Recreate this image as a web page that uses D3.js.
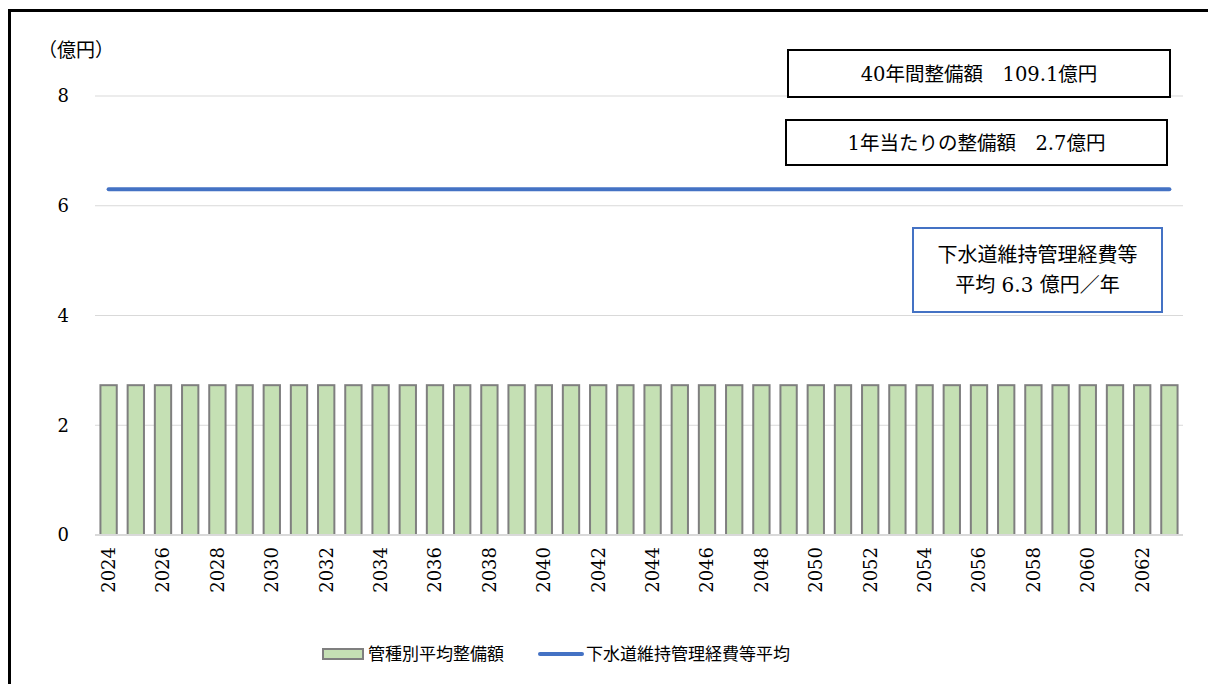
<!DOCTYPE html>
<html>
<head>
<meta charset="utf-8">
<script src="https://cdn.jsdelivr.net/npm/d3@7"></script>
<style>
body { margin: 0; background: #fff; }
svg { display: block; }
.num { font-family: "DejaVu Serif", "Liberation Serif", serif; }
.jp { font-family: "Noto Sans CJK JP", sans-serif; }
.mix { font-family: "DejaVu Serif", "Noto Sans CJK JP", serif; }
</style>
</head>
<body>
<div id="chart-area"></div>
<script>
// data
var years = d3.range(2024, 2064);
var seriesNames = ["管種別平均整備額", "下水道維持管理経費等平均"];
var barValues = [2.73, 2.73, 2.73, 2.73, 2.73, 2.73, 2.73, 2.73, 2.73, 2.73,
	2.73, 2.73, 2.73, 2.73, 2.73, 2.73, 2.73, 2.73, 2.73, 2.73,
	2.73, 2.73, 2.73, 2.73, 2.73, 2.73, 2.73, 2.73, 2.73, 2.73,
	2.73, 2.73, 2.73, 2.73, 2.73, 2.73, 2.73, 2.73, 2.73, 2.73];
var lineValues = [6.3, 6.3, 6.3, 6.3, 6.3, 6.3, 6.3, 6.3, 6.3, 6.3,
	6.3, 6.3, 6.3, 6.3, 6.3, 6.3, 6.3, 6.3, 6.3, 6.3,
	6.3, 6.3, 6.3, 6.3, 6.3, 6.3, 6.3, 6.3, 6.3, 6.3,
	6.3, 6.3, 6.3, 6.3, 6.3, 6.3, 6.3, 6.3, 6.3, 6.3];
var yTicks = [0, 2, 4, 6, 8];
var noteLines = ["40年間整備額　109.1億円", "1年当たりの整備額　2.7億円"];
var blueNote = ["下水道維持管理経費等", "平均 6.3 億円／年"];

var W = 1208, H = 684;
var margin = {top: 96, right: 25, bottom: 149, left: 95};
var width = W - margin.left - margin.right;
var height = H - margin.top - margin.bottom;

var svg = d3.select("#chart-area").append("svg")
	.attr("width", W)
	.attr("height", H);

// outer frame (runs off right and bottom)
svg.append("rect")
	.attr("x", 9.5).attr("y", 10.5)
	.attr("width", W + 20).attr("height", H + 20)
	.attr("fill", "none")
	.attr("stroke", "#000")
	.attr("stroke-width", 3);

var g = svg.append("g")
	.attr("transform", "translate(" + margin.left + ", " + margin.top + ")");

var x = d3.scaleBand()
	.domain(years)
	.range([0, width])
	.paddingInner(0.4)
	.paddingOuter(0.2);

var y = d3.scaleLinear()
	.domain([0, 8])
	.range([height, 0]);

// gridlines
g.selectAll(".grid").data(yTicks.filter(d => d > 0)).enter().append("line")
	.attr("class", "grid")
	.attr("x1", 0).attr("x2", width)
	.attr("y1", d => y(d)).attr("y2", d => y(d))
	.attr("stroke", "#d9d9d9")
	.attr("stroke-width", 1);

// y labels
g.selectAll(".ylab").data(yTicks).enter().append("text")
	.attr("class", "ylab num")
	.attr("x", -26)
	.attr("y", d => y(d))
	.attr("dy", "0.36em")
	.attr("text-anchor", "end")
	.style("font-size", "18px")
	.attr("fill", "#000")
	.text(d => d);

g.append("text")
	.attr("class", "jp")
	.attr("x", -57)
	.attr("y", -46)
	.attr("dy", "0.35em")
	.style("font-size", "19px")
	.attr("fill", "#000")
	.text("（億円）");

// bars
g.selectAll(".bar").data(barValues).enter().append("rect")
	.attr("class", "bar")
	.attr("x", (d, i) => x(years[i]))
	.attr("y", d => y(d))
	.attr("width", x.bandwidth())
	.attr("height", d => height - y(d))
	.attr("fill", "#c5e0b4")
	.attr("stroke", "#7f7f7f")
	.attr("stroke-width", 2);

// baseline
g.append("line")
	.attr("x1", 0).attr("x2", width)
	.attr("y1", height).attr("y2", height)
	.attr("stroke", "#d9d9d9")
	.attr("stroke-width", 2);

// x axis labels, every other year
var bottomAxis = d3.axisBottom(x)
	.tickValues(years.filter(d => d % 2 === 0))
	.tickSize(0);
var xa = g.append("g")
	.attr("transform", "translate(0, " + height + ")")
	.call(bottomAxis);
xa.attr("font-family", null).attr("font-size", null);
xa.select(".domain").remove();
xa.selectAll("text")
	.attr("class", "num")
	.attr("transform", "rotate(-90)")
	.attr("x", -12)
	.attr("y", 0)
	.attr("dy", "0.36em")
	.attr("text-anchor", "end")
	.style("font-size", "18px")
	.attr("fill", "#000");

// line series
var line = d3.line()
	.x((d, i) => x(years[i]) + x.bandwidth() / 2)
	.y(d => y(d));
g.append("path")
	.datum(lineValues)
	.attr("d", line)
	.attr("fill", "none")
	.attr("stroke", "#4472c4")
	.attr("stroke-width", 4)
	.attr("stroke-linecap", "round");

// note boxes
var boxes = [
	{x: 788, y: 50, w: 382, h: 47, text: [noteLines[0]], stroke: "#000", fs: 19.5, lh: 0},
	{x: 786, y: 120, w: 381, h: 45, text: [noteLines[1]], stroke: "#000", fs: 19.5, lh: 0},
	{x: 913, y: 228, w: 249, h: 84, text: blueNote, stroke: "#4472c4", fs: 20, lh: 30}
];
boxes.forEach(b => {
	svg.append("rect")
		.attr("x", b.x).attr("y", b.y)
		.attr("width", b.w).attr("height", b.h)
		.attr("fill", "#fff")
		.attr("stroke", b.stroke)
		.attr("stroke-width", 2);
	var y0 = b.y + b.h / 2 - (b.text.length - 1) * b.lh / 2;
	b.text.forEach((t, i) => {
		svg.append("text")
			.attr("class", "mix")
			.attr("x", b.x + b.w / 2)
			.attr("y", y0 + i * b.lh)
			.attr("dy", "0.36em")
			.attr("text-anchor", "middle")
			.style("font-size", b.fs + "px")
			.attr("fill", "#000")
			.text(t);
	});
});

// legend
var lg = svg.append("g").attr("transform", "translate(0, 654)");
lg.append("rect")
	.attr("x", 323).attr("y", -5)
	.attr("width", 40).attr("height", 10)
	.attr("fill", "#c5e0b4")
	.attr("stroke", "#7f7f7f")
	.attr("stroke-width", 2);
lg.append("text")
	.attr("class", "jp")
	.attr("x", 368).attr("dy", "0.35em")
	.style("font-size", "17px")
	.attr("fill", "#000")
	.text(seriesNames[0]);
lg.append("line")
	.attr("x1", 540).attr("x2", 582)
	.attr("stroke", "#4472c4")
	.attr("stroke-width", 4)
	.attr("stroke-linecap", "round");
lg.append("text")
	.attr("class", "jp")
	.attr("x", 586).attr("dy", "0.35em")
	.style("font-size", "17px")
	.attr("fill", "#000")
	.text(seriesNames[1]);
</script>
</body>
</html>
